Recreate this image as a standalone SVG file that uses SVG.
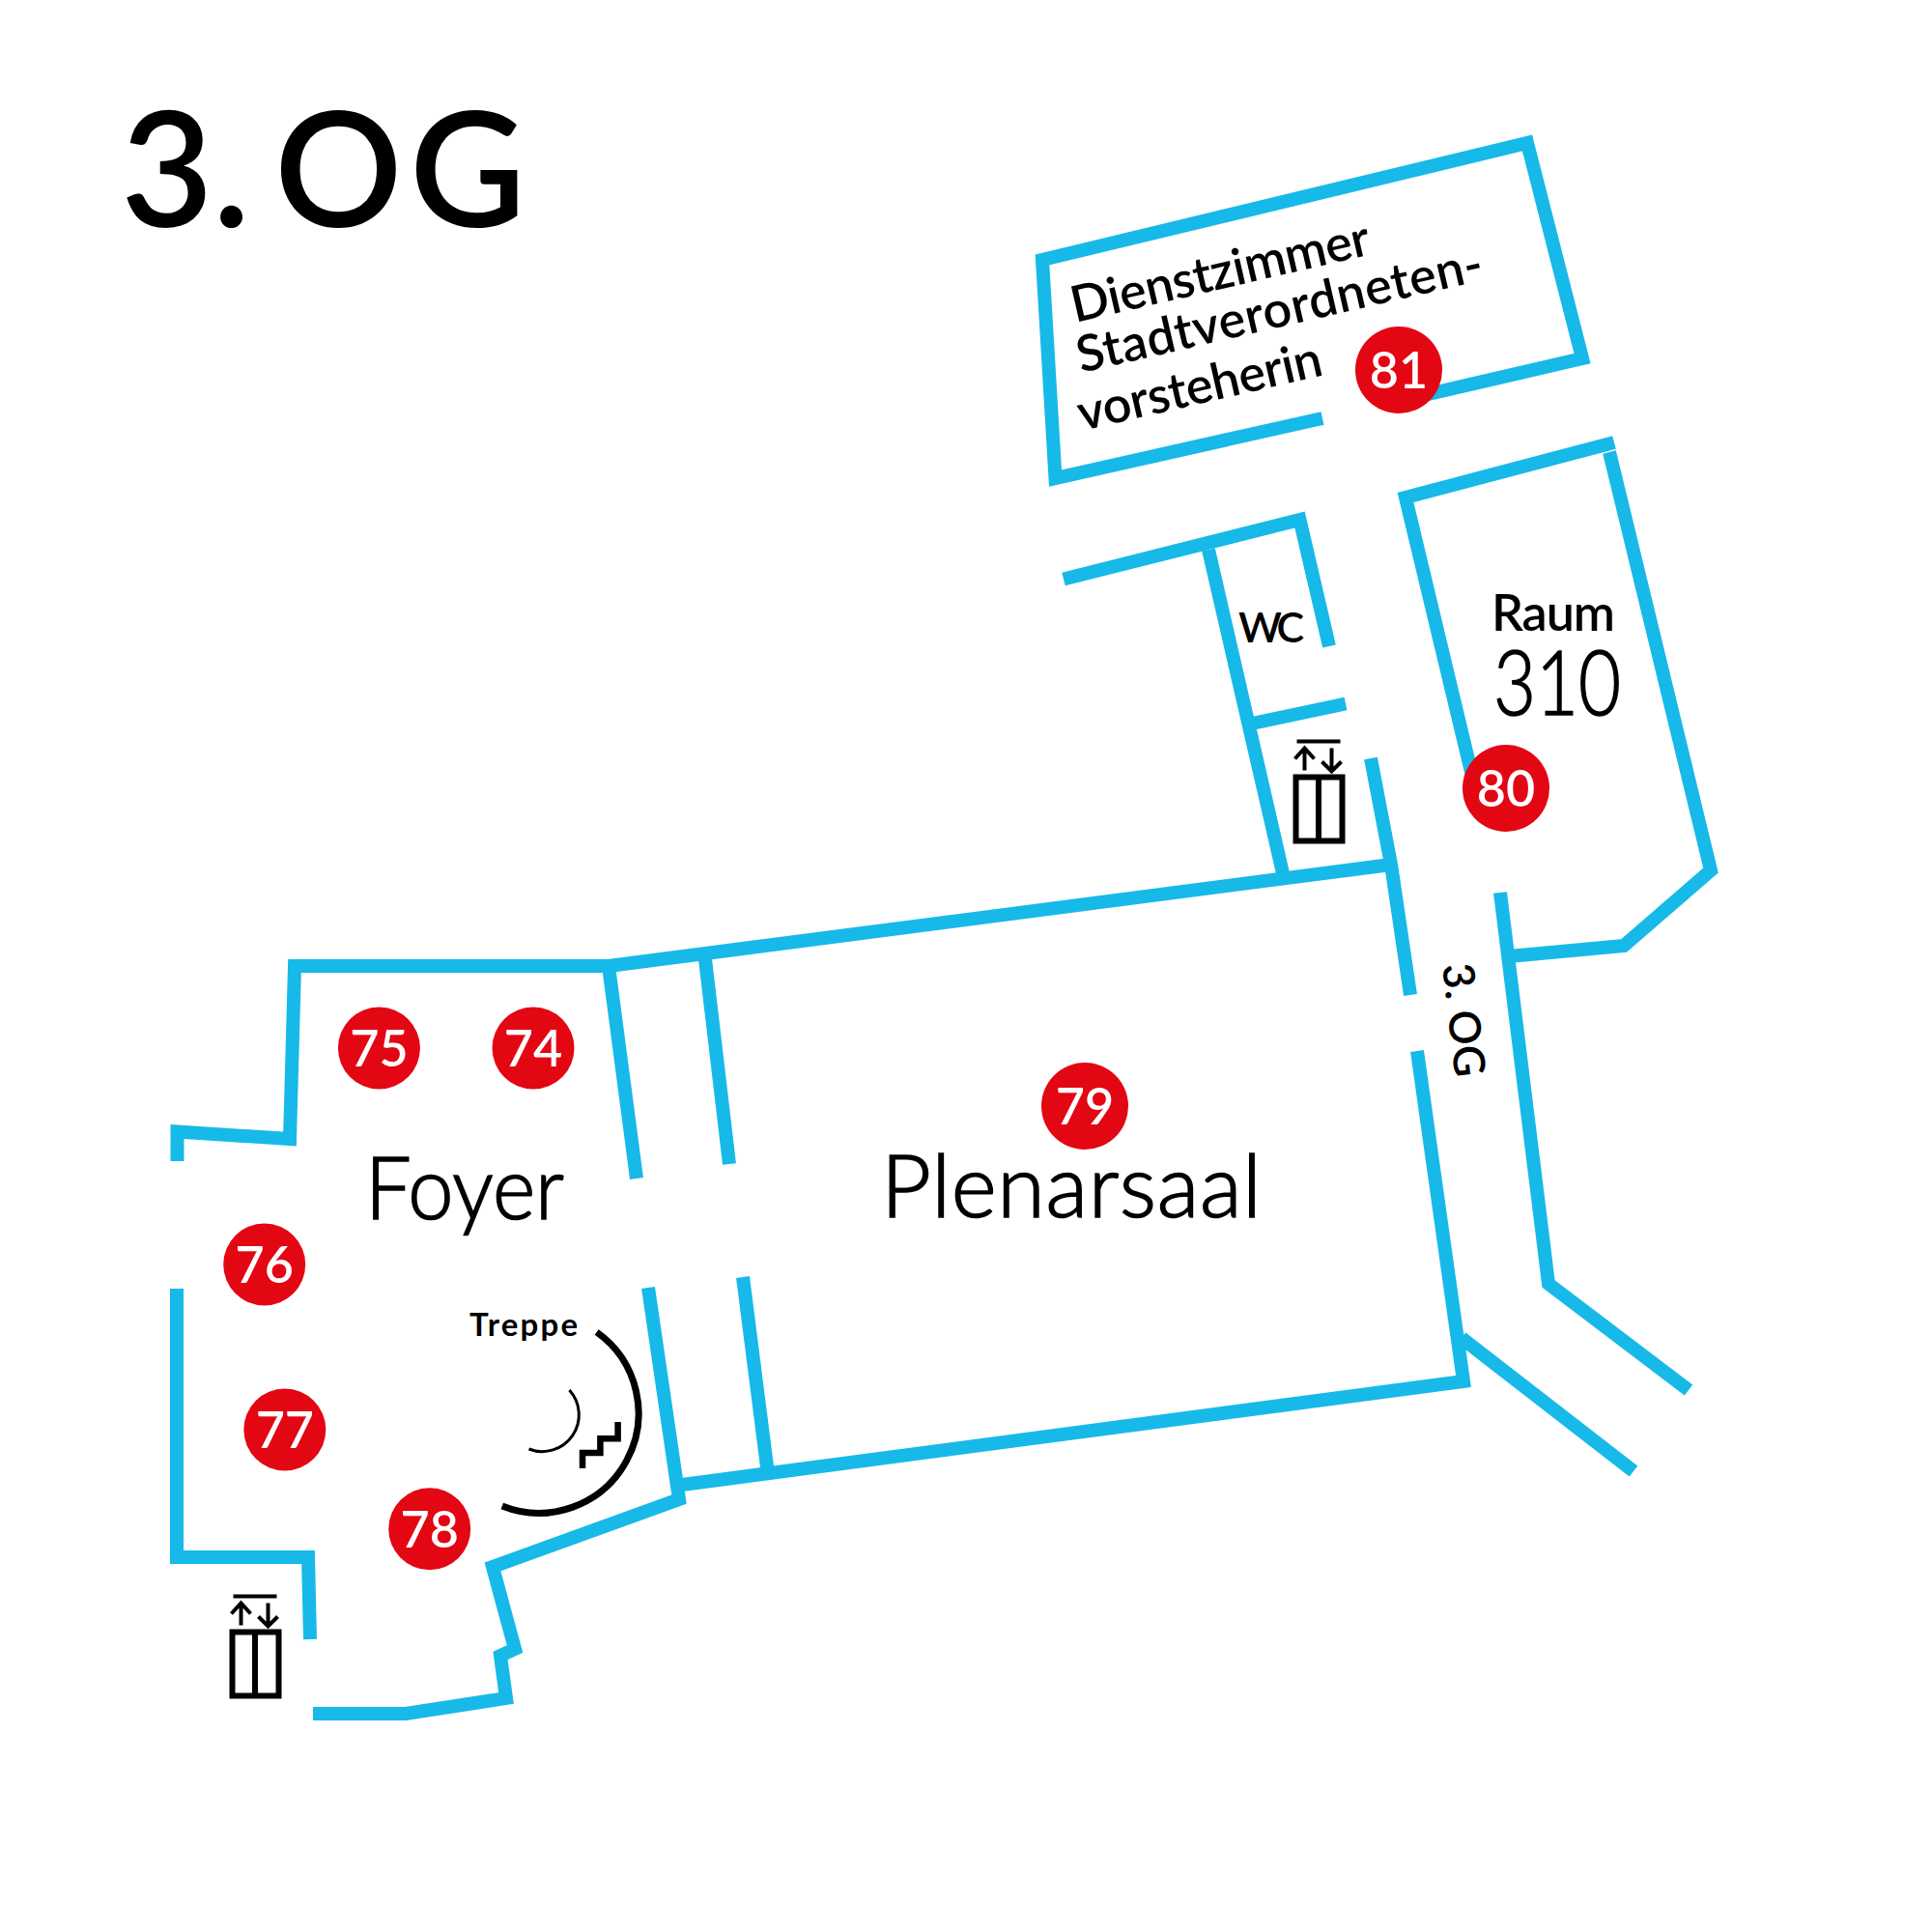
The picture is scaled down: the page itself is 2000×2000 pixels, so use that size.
<svg xmlns="http://www.w3.org/2000/svg" xmlns:xlink="http://www.w3.org/1999/xlink" width="2000" height="2000" viewBox="0 0 2000 2000">
<style>
.w{fill:none;stroke:#17b9e8;stroke-width:14;stroke-miterlimit:10}
.k{fill:none;stroke:#000}
text{font-family:"Lato","Liberation Sans",sans-serif;fill:#000}
.m{font-weight:600}
.l{font-weight:300;stroke:#000;stroke-width:1.600}
.pin circle{fill:#e30613}
.pin text{fill:#fff;font-size:52px;font-weight:600;text-anchor:middle}
</style>
<defs>
<g id="lift">
<rect class="k" x="3" y="3" width="48" height="66" stroke-width="6"/>
<path class="k" stroke-width="6" d="M26.500 3V69"/>
<path class="k" stroke-width="4" d="M4-34H49M12-4V-27M2-16L12-27L22-16M40-27V-4M30-13L40-3L50-13"/>
</g>
</defs>
<rect width="2000" height="2000" fill="#fff"/>
<g id="walls">
<path class="w" d="M1369,433L1092.500,495L1079,269L1581,148L1638,371L1470,410"/>
<path class="w" d="M1671,458L1455,515L1528,820"/>
<path class="w" d="M1666,468L1771,901L1681,979L1562,990"/>
<path class="w" d="M1553,924L1603,1329L1748,1439"/>
<path class="w" d="M1101,599.500L1345.500,538L1376,669"/>
<path class="w" d="M1251,569L1328,904"/>
<path class="w" d="M1296,749L1393,728.500"/>
<path class="w" d="M1419,785L1440,895L1460,1030"/>
<path class="w" d="M630,1000L1440,895"/>
<path class="w" d="M183.500,1202V1171.500L300,1179L305,1000H630L659,1220"/>
<path class="w" d="M730,993L755,1205"/>
<path class="w" d="M1467,1088L1515,1430L706,1537"/>
<path class="w" d="M1513,1385L1691,1523"/>
<path class="w" d="M671,1333L703,1552L510,1622L533,1707L518,1714L524,1758L420,1774H324"/>
<path class="w" d="M769,1322L795,1526"/>
<path class="w" d="M183,1334V1612H319L321,1697"/>
</g>
<g id="lift-right"><use xlink:href="#lift" href="#lift" x="1338.500" y="801.500"/></g>
<g id="lift-left"><use xlink:href="#lift" href="#lift" x="237.500" y="1686.500"/></g>
<g id="stairs">
<path class="k" stroke-width="7" d="M617.700,1379A103.200,103.200 0 0 1 519.800,1559"/>
<path class="k" stroke-width="3" d="M589.400,1439A38,38 0 0 1 547.500,1500"/>
<path class="k" stroke-width="6.500" d="M603,1520V1504H621.400V1489.300H639.600V1472"/>
<text x="486" y="1383" font-size="33" font-weight="700" textLength="112">Treppe</text>
</g>
<g id="labels">
<text x="125 220 250 284 424" y="235" font-size="165" class="m">3. OG</text>
<text x="378" y="1262" font-size="90" class="l" textLength="206" lengthAdjust="spacingAndGlyphs">Foyer</text>
<text x="912" y="1260" font-size="90" class="l" textLength="394">Plenarsaal</text>
<text x="1544" y="653" font-size="52" class="m" textLength="128">Raum</text>
<text x="1546" y="740" font-size="92" class="l" textLength="132" lengthAdjust="spacingAndGlyphs">310</text>
<text x="1282" y="665" font-size="43" class="m" textLength="68">WC</text>
<text transform="translate(1113,334) rotate(-13)" font-size="52" class="m" textLength="316">Dienstzimmer</text>
<text transform="translate(1119,386) rotate(-13)" font-size="52" class="m" textLength="430">Stadtverordneten-</text>
<text transform="translate(1120,446) rotate(-13)" font-size="52" class="m" textLength="258">vorsteherin</text>
<text transform="translate(1493,999) rotate(83.500)" font-size="45" class="m" textLength="118">3. OG</text>
</g>
<g id="pin-74" class="pin"><circle cx="552" cy="1085" r="42.500"/><text x="552" y="1104">74</text></g>
<g id="pin-75" class="pin"><circle cx="392.400" cy="1085" r="42.500"/><text x="392.400" y="1104">75</text></g>
<g id="pin-76" class="pin"><circle cx="273.700" cy="1309" r="42.500"/><text x="273.700" y="1328">76</text></g>
<g id="pin-77" class="pin"><circle cx="294.800" cy="1480" r="42.500"/><text x="294.800" y="1499">77</text></g>
<g id="pin-78" class="pin"><circle cx="444.700" cy="1582.700" r="42.500"/><text x="444.700" y="1601.700">78</text></g>
<g id="pin-79" class="pin"><circle cx="1123" cy="1145" r="45"/><text x="1123" y="1164">79</text></g>
<g id="pin-80" class="pin"><circle cx="1559" cy="816" r="45"/><text x="1559" y="835">80</text></g>
<g id="pin-81" class="pin"><circle cx="1448" cy="383" r="45"/><text x="1448" y="402">81</text></g>
</svg>
